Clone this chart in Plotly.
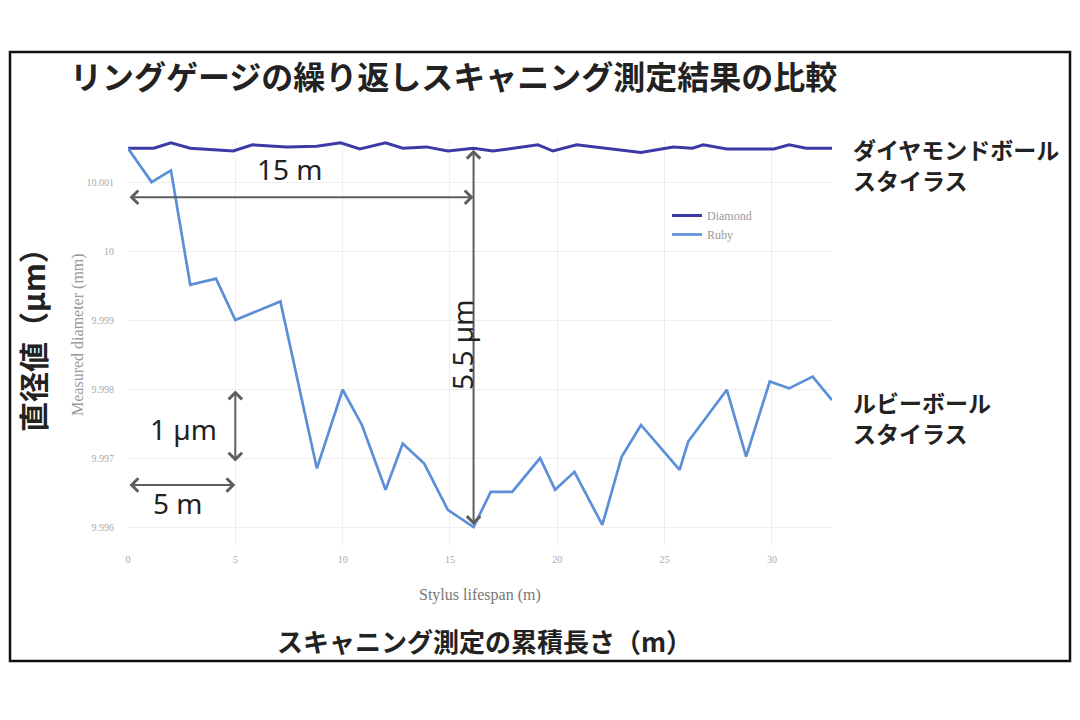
import plotly.graph_objects as go

# ---------------- data ----------------
diamond_x = [0, 1.2, 2.0, 2.9, 4.9, 5.8, 7.4, 8.8, 9.9, 10.8, 12.0, 12.8, 13.9, 14.9, 16.1,
             17.0, 19.1, 19.8, 20.9, 23.9, 25.4, 26.3, 26.8, 27.9, 30.1, 30.8, 31.6, 32.8]
diamond_y = [10.00149, 10.00149, 10.00157, 10.00149, 10.00145, 10.00154, 10.00151, 10.00152,
             10.00157, 10.00148, 10.00157, 10.00149, 10.00151, 10.00145, 10.00149,
             10.00145, 10.00154, 10.00145, 10.00154, 10.00143, 10.00151, 10.00149, 10.00154,
             10.00148, 10.00148, 10.00154, 10.00149, 10.00149]

ruby_x = [0, 1.1, 2.0, 2.9, 4.1, 5.0, 7.1, 8.8, 10.0, 10.9, 12.0, 12.8, 13.8, 14.9, 16.1,
          16.9, 17.9, 19.2, 19.9, 20.8, 22.1, 23.0, 23.9, 25.7, 26.1, 27.9, 28.8, 29.9,
          30.8, 31.9, 32.8]
ruby_y = [10.00149, 10.00100, 10.00117, 9.99951, 9.99960, 9.99900, 9.99927, 9.99685,
          9.99799, 9.99748, 9.99654, 9.99721, 9.99692, 9.99625, 9.99600,
          9.99651, 9.99651, 9.99700, 9.99654, 9.99680, 9.99603, 9.99702, 9.99748,
          9.99683, 9.99724, 9.99799, 9.99702, 9.99811, 9.99801, 9.99818, 9.99784]

series_names = ["Diamond", "Ruby"]
x_tickvals = [0, 5, 10, 15, 20, 25, 30]
x_ticktext = ["0", "5", "10", "15", "20", "25", "30"]
y_tickvals = [10.001, 10.000, 9.999, 9.998, 9.997, 9.996]
y_ticktext = ["10.001", "10", "9.999", "9.998", "9.997", "9.996"]

title_text = "リングゲージの繰り返しスキャニング測定結果の比較"
ytitle_jp = "直径値（µm）"
xtitle_jp = "スキャニング測定の累積長さ（m）"
xtitle_en = "Stylus lifespan (m)"
ytitle_en = "Measured diameter (mm)"
label_diamond = ["ダイヤモンドボール", "スタイラス"]
label_ruby = ["ルビーボール", "スタイラス"]

# ---------------- layout geometry ----------------
# the page body adds an 8px margin, so the figure is drawn 8px in from the window corner
OFF = 8
W, H = 1080 - 2 * OFF, 720 - 2 * OFF
ML, MR, MT, MB = 120, 240, 132, 167
PW, PH = W - ML - MR, H - MT - MB


def px(xpix):  # window pixel -> paper x
    return (xpix - OFF - ML) / PW


def py(ypix):  # window pixel -> paper y
    return (H - MB - (ypix - OFF)) / PH


JP = "Noto Sans CJK JP"
SERIF = "Liberation Serif"
ARROW = "#5e5e5e"

fig = go.Figure()
fig.add_trace(go.Scatter(x=diamond_x, y=diamond_y, mode="lines", name=series_names[0],
                         line=dict(color="#3b3aa6", width=3)))
fig.add_trace(go.Scatter(x=ruby_x, y=ruby_y, mode="lines", name=series_names[1],
                         line=dict(color="#5b8fd8", width=2.7)))

# reference quantities derived from the data
i_min = ruby_y.index(min(ruby_y))
x_min = ruby_x[i_min]
y_min = ruby_y[i_min]
y_top = diamond_y[0]

annotations = []


def darrow(x0, y0, x1, y1):
    annotations.append(dict(x=x1, y=y1, ax=x0, ay=y0, xref="x", yref="y", axref="x", ayref="y",
                            text="", showarrow=True, arrowhead=4, startarrowhead=4,
                            arrowside="end+start", arrowsize=1.3, startarrowsize=1.3,
                            arrowwidth=2, arrowcolor=ARROW))


# 15 m horizontal
darrow(0, 10.00078, x_min, 10.00078)
# 5.5 µm vertical
darrow(x_min, y_top, x_min, y_min + 0.00003)
# 1 µm vertical
darrow(5.0, 9.998, 5.0, 9.99695)
# 5 m horizontal
darrow(0, 9.99661, 5.0, 9.99661)


def label(xp, yp, text, size, family="Noto Sans", angle=0, anchor="center", color="#222",
          bold=False, align="center"):
    annotations.append(dict(x=px(xp), y=py(yp), xref="paper", yref="paper",
                            xanchor=anchor, yanchor="middle", textangle=angle,
                            text=("<b>" + text + "</b>") if bold else text, showarrow=False,
                            align=align, font=dict(family=family, size=size, color=color)))


label(290, 169, "15 m", 28)
label(462, 345, "5.5 µm", 28, angle=-90)
label(183, 429, "1 µm", 28)
label(177, 503, "5 m", 28)

label(68, 75, title_text, 32, family=JP, anchor="left", bold=True)
label(32, 333, ytitle_jp, 30, family=JP, angle=-90, bold=True)
label(484, 640, xtitle_jp, 26, family=JP, bold=True)
label(851, 149, label_diamond[0], 23, family=JP, anchor="left", bold=True)
label(851, 180, label_diamond[1], 23, family=JP, anchor="left", bold=True)
label(851, 402, label_ruby[0], 23, family=JP, anchor="left", bold=True)
label(851, 433, label_ruby[1], 23, family=JP, anchor="left", bold=True)

label(480, 595, xtitle_en, 16, family=SERIF, color="#777")
label(78, 335, ytitle_en, 16, family=SERIF, color="#999", angle=-90)

shapes = [dict(type="rect", xref="paper", yref="paper",
               x0=px(10), x1=px(1070), y0=py(661), y1=py(52),
               line=dict(color="#111", width=2.5), fillcolor="rgba(0,0,0,0)")]

fig.update_layout(
    width=W, height=H,
    margin=dict(l=ML, r=MR, t=MT, b=MB),
    paper_bgcolor="white", plot_bgcolor="white",
    showlegend=True,
    legend=dict(x=px(667), y=py(201), xanchor="left", yanchor="top",
                font=dict(family=SERIF, size=12, color="#999"),
                bgcolor="rgba(0,0,0,0)", tracegroupgap=0, itemwidth=30),
    annotations=annotations,
    shapes=shapes,
    xaxis=dict(range=[0, 32.8], tickvals=x_tickvals, ticktext=x_ticktext,
               showgrid=True, gridcolor="#eeeeee", gridwidth=1, zeroline=False,
               showline=False, ticks="", ticklabelstandoff=7,
               tickfont=dict(family=SERIF, size=10, color="#aaa")),
    yaxis=dict(range=[9.99574, 10.00161], tickvals=y_tickvals, ticktext=y_ticktext,
               showgrid=True, gridcolor="#eeeeee", gridwidth=1, zeroline=False,
               showline=False, ticks="", ticklabelstandoff=13,
               tickfont=dict(family=SERIF, size=10, color="#aaa")),
)

fig.write_html("out.html")
